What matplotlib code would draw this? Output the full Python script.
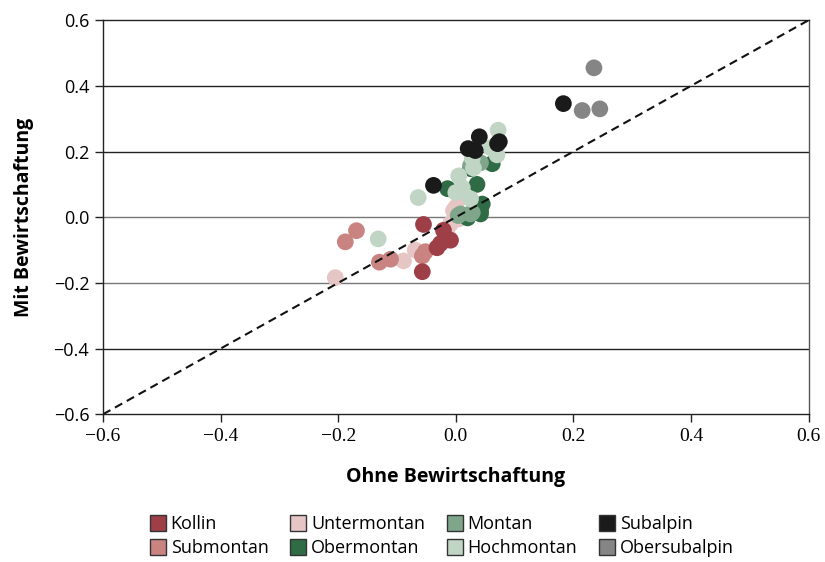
import matplotlib.pyplot as plt
from matplotlib.lines import Line2D

# Werte
kollin_x = [-0.055, -0.057, -0.032, -0.021, -0.009, -0.026]
kollin_y = [-0.022, -0.166, -0.093, -0.040, -0.070, -0.080]

submontan_x = [-0.188, -0.169, -0.130, -0.111, -0.057, -0.052]
submontan_y = [-0.075, -0.041, -0.137, -0.128, -0.118, -0.105]

untermontan_x = [-0.205, -0.089, -0.069, -0.015, -0.009, -0.004, 0.000, 0.008, 0.005]
untermontan_y = [-0.184, -0.133, -0.100, -0.050, -0.020, 0.020, 0.030, 0.060, -0.005]

montan_x = [0.042, 0.025, 0.008, 0.028, 0.004, 0.025]
montan_y = [0.166, 0.157, 0.010, 0.014, 0.005, 0.010]

obermontan_x = [0.036, -0.014, 0.062, 0.025, 0.045, 0.042, 0.042, 0.020]
obermontan_y = [0.100, 0.087, 0.163, 0.148, 0.040, 0.020, 0.010, -0.002]

hochmontan_x = [0.072, 0.059, 0.070, 0.028, 0.005, 0.011, 0.025, -0.064, -0.132, 0.000, 0.030]
hochmontan_y = [0.265, 0.212, 0.190, 0.180, 0.126, 0.090, 0.056, 0.060, -0.066, 0.075, 0.150]

subalpin_x = [0.183, 0.040, 0.021, 0.033, 0.074, 0.071, -0.038]
subalpin_y = [0.346, 0.245, 0.209, 0.203, 0.230, 0.224, 0.097]

obersubalpin_x = [0.235, 0.215, 0.245]
obersubalpin_y = [0.455, 0.325, 0.330]

labels = ["Kollin", "Submontan", "Untermontan", "Obermontan",
          "Montan", "Hochmontan", "Subalpin", "Obersubalpin"]
colors = {"Kollin": "#9e3f48", "Submontan": "#c98482", "Untermontan": "#e6c6c4",
          "Obermontan": "#2f6b45", "Montan": "#7fa68a", "Hochmontan": "#c1d5c5",
          "Subalpin": "#1a1a1a", "Obersubalpin": "#858585"}
series = {"Kollin": (kollin_x, kollin_y), "Submontan": (submontan_x, submontan_y),
          "Untermontan": (untermontan_x, untermontan_y),
          "Obermontan": (obermontan_x, obermontan_y), "Montan": (montan_x, montan_y),
          "Hochmontan": (hochmontan_x, hochmontan_y), "Subalpin": (subalpin_x, subalpin_y),
          "Obersubalpin": (obersubalpin_x, obersubalpin_y)}

plt.rcParams['font.family'] = ['Open Sans', 'DejaVu Sans']

fig = plt.figure(figsize=(8.25, 5.62), dpi=100)
ax = fig.add_axes([0.125, 0.263, 0.855, 0.701])

ax.set_xlim(-0.6, 0.6)
ax.set_ylim(-0.6, 0.6)

for y in [0.4, 0.2, -0.4]:
    ax.axhline(y, color="#222222", lw=1.0, zorder=1)
for y in [0.0, -0.2]:
    ax.axhline(y, color="#777777", lw=1.0, zorder=1)

draw_order = ["Untermontan", "Submontan", "Kollin", "Obermontan",
              "Montan", "Hochmontan", "Subalpin", "Obersubalpin"]
for name in draw_order:
    xs, ys = series[name]
    ax.scatter(xs, ys, s=145, color=colors[name], edgecolors="none", zorder=2)

ax.plot([-0.6, 0.6], [-0.6, 0.6], ls=(0, (4, 2.5)), color="#111111", lw=1.5, zorder=3)

for s in ax.spines.values():
    s.set_color("#222222")
    s.set_linewidth(1.0)
ax.spines["right"].set_color("#555555")

ax.set_xticks([-0.6, -0.4, -0.2, 0.0, 0.2, 0.4, 0.6])
ax.set_yticks([-0.6, -0.4, -0.2, 0.0, 0.2, 0.4, 0.6])
ax.set_xticklabels(["\u22120.6", "\u22120.4", "\u22120.2", "0.0", "0.2", "0.4", "0.6"],
                   family="Liberation Serif", fontsize=14)
ax.set_yticklabels(["\u22120.6", "\u22120.4", "\u22120.2", "0.0", "0.2", "0.4", "0.6"],
                   fontsize=13)
ax.tick_params(direction="out", length=6, width=1, color="#222222", pad=4)

ax.set_xlabel("Ohne Bewirtschaftung", fontsize=14, fontweight="bold", labelpad=16)
ax.set_ylabel("Mit Bewirtschaftung", fontsize=14, fontweight="bold", labelpad=14)

handles = [Line2D([], [], marker="s", ls="none", markersize=11,
                  markerfacecolor=colors[n], markeredgecolor="#333333",
                  markeredgewidth=1.0) for n in labels]
fig.legend(handles, labels, ncol=4, loc="center", bbox_to_anchor=(0.536, 0.046),
           frameon=False, fontsize=13, handlelength=0.8, handletextpad=0.3,
           columnspacing=1.25, labelspacing=0.35, borderpad=0)

fig.savefig("out.png", dpi=100)
